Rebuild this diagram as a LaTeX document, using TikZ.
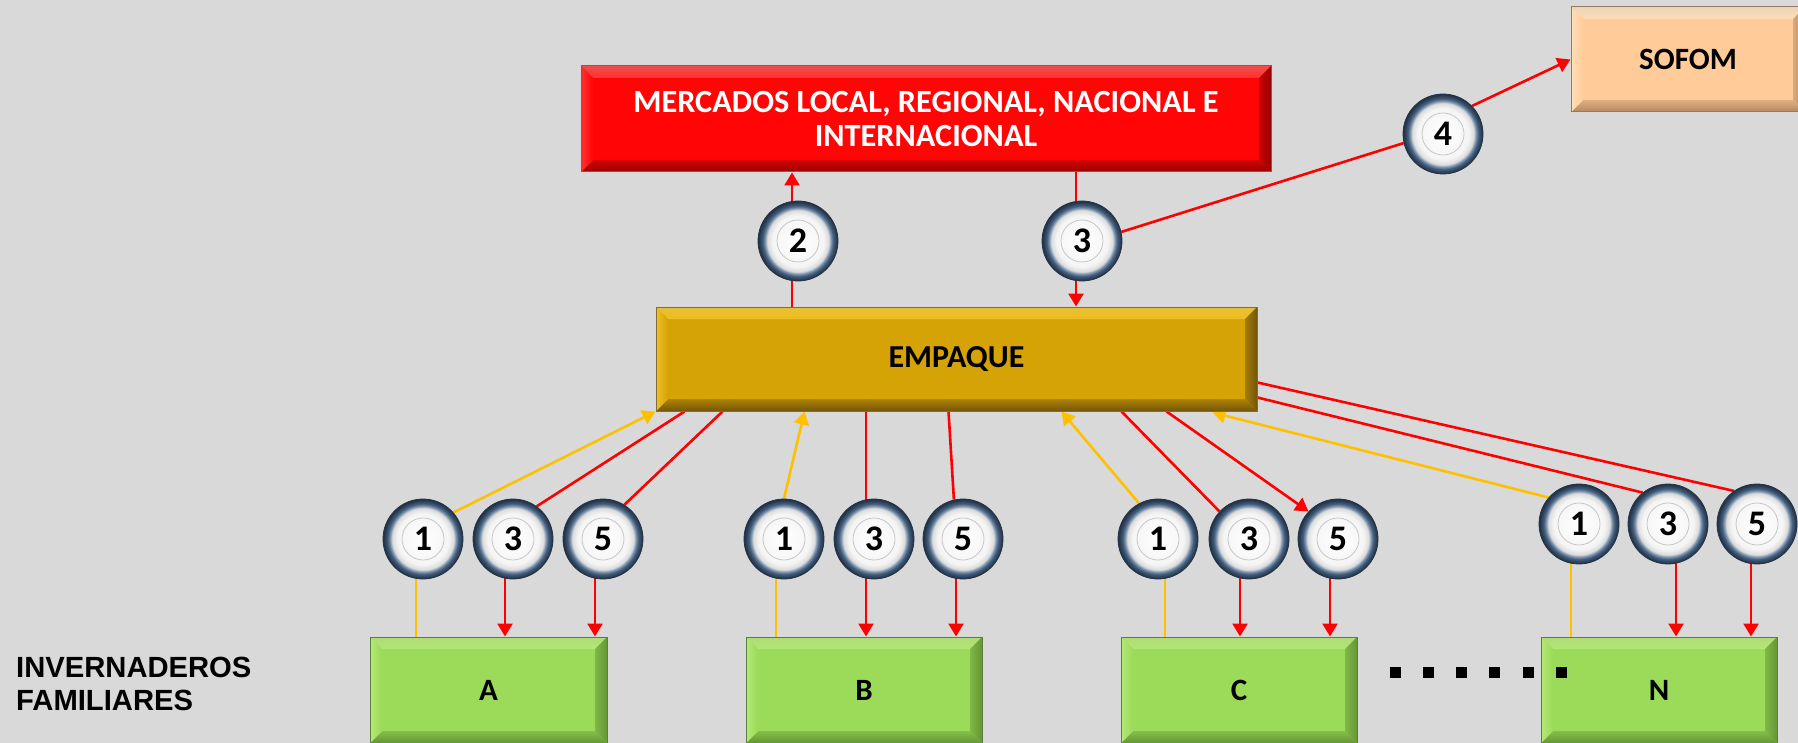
\documentclass[tikz,border=0pt]{standalone}
\usepackage{fontspec}
\setmainfont{Carlito}
\newfontfamily\arialfont{Liberation Sans}
\usetikzlibrary{arrows.meta,calc}
\pgfdeclarelayer{bg}
\pgfdeclarelayer{conn}
\pgfsetlayers{bg,conn,main}
\definecolor{bgc}{HTML}{D9D9D9}
\definecolor{redc}{HTML}{FF0000}
\definecolor{yel}{HTML}{FFC000}
\definecolor{ringA}{RGB}{140,162,186}
\definecolor{ringB}{RGB}{68,95,125}
\definecolor{ringC}{RGB}{36,52,72}
\definecolor{gface}{RGB}{155,219,89}
\definecolor{glight}{RGB}{195,242,135}
\definecolor{gdark}{RGB}{100,150,52}
\definecolor{gborder}{RGB}{95,125,65}
\definecolor{eface}{RGB}{214,163,6}
\definecolor{elight}{RGB}{255,212,55}
\definecolor{edark}{RGB}{115,85,8}
\definecolor{eborder}{RGB}{130,110,50}
\definecolor{mface}{RGB}{255,5,5}
\definecolor{mlight}{RGB}{255,80,80}
\definecolor{mdark}{RGB}{150,0,0}
\definecolor{mborder}{RGB}{175,70,70}
\definecolor{sface}{RGB}{255,204,153}
\definecolor{slight}{RGB}{255,236,205}
\definecolor{sdark}{RGB}{180,135,95}
\definecolor{sborder}{RGB}{150,120,100}
\pgfdeclareradialshading{btn}{\pgfpointorigin}{color(0bp)=(white); color(16bp)=(white!96!black); color(19.3bp)=(white!86!black); color(20.3bp)=(ringA); color(22bp)=(ringB); color(24.5bp)=(ringC); color(50bp)=(ringC)}
\tikzset{
  bevelbox/.style n args={4}{draw=#4, line width=1pt, fill=#1, inner sep=0pt, align=center,
    path picture={
      \path (path picture bounding box.south west) coordinate (pp-sw)
            (path picture bounding box.north east) coordinate (pp-ne)
            (path picture bounding box.north west) coordinate (pp-nw)
            (path picture bounding box.south east) coordinate (pp-se);
      \shade[top color=#2!80!#4, bottom color=#2!55!#1] (pp-nw) -- (pp-ne) -- ([xshift=-12pt,yshift=-12pt]pp-ne) -- ([xshift=12pt,yshift=-12pt]pp-nw) -- cycle;
      \shade[top color=#1!60!#3, bottom color=#3] (pp-sw) -- (pp-se) -- ([xshift=-12pt,yshift=12pt]pp-se) -- ([xshift=12pt,yshift=12pt]pp-sw) -- cycle;
      \shade[left color=#2!60!#1, right color=#1] (pp-nw) -- ([xshift=12pt,yshift=-12pt]pp-nw) -- ([xshift=12pt,yshift=12pt]pp-sw) -- (pp-sw) -- cycle;
      \shade[left color=#1!50!#3, right color=#3] (pp-ne) -- ([xshift=-12pt,yshift=-12pt]pp-ne) -- ([xshift=-12pt,yshift=12pt]pp-se) -- (pp-se) -- cycle;
    }},
  redl/.style={draw=redc, line width=2.6pt},
  redarr/.style={redl, -{Triangle[width=15pt,length=13pt]}},
  yell/.style={draw=yel, line width=2.6pt},
  yelarr/.style={yell, -{Triangle[width=15pt,length=13pt]}},
  num/.style={circle, minimum size=80pt, inner sep=0pt, shade, shading=btn, draw=ringC, line width=0.8pt,
    font=\fontsize{36}{36}\selectfont\bfseries,
    path picture={\draw[black!22, line width=0.8pt] (path picture bounding box.center) circle (21pt);}},
  lbl/.style={font=\fontsize{31}{34}\selectfont\bfseries},
}
\begin{document}
\begin{tikzpicture}[x=1pt,y=-1pt]
\useasboundingbox (0,0) rectangle (1798,743);
\begin{pgfonlayer}{bg}
  \fill[bgc] (0,0) rectangle (1798,743);
\end{pgfonlayer}

% boxes
\node[bevelbox={mface}{mlight}{mdark}{mborder}, minimum width=690pt, minimum height=106pt, text=white, font=\fontsize{32.3}{34}\selectfont\bfseries] (merc) at (926,119) {MERCADOS LOCAL, REGIONAL, NACIONAL E\\INTERNACIONAL};
\node[bevelbox={eface}{elight}{edark}{eborder}, minimum width=601pt, minimum height=104pt, font=\fontsize{32}{34}\selectfont\bfseries] (emp) at (956.5,359) {EMPAQUE};
\node[bevelbox={sface}{slight}{sdark}{sborder}, minimum width=234pt, minimum height=105pt, lbl] (sofom) at (1688,59.5) {SOFOM};
\node[bevelbox={gface}{glight}{gdark}{gborder}, minimum width=237pt, minimum height=106pt, lbl] (boxA) at (488.5,690) {A};
\node[bevelbox={gface}{glight}{gdark}{gborder}, minimum width=236pt, minimum height=106pt, lbl] (boxB) at (864,690) {B};
\node[bevelbox={gface}{glight}{gdark}{gborder}, minimum width=236pt, minimum height=106pt, lbl] (boxC) at (1239,690) {C};
\node[bevelbox={gface}{glight}{gdark}{gborder}, minimum width=236pt, minimum height=106pt, lbl] (boxN) at (1659,690) {N};

\node[anchor=west, align=left, inner sep=0pt, font=\arialfont\bfseries\fontsize{29.2}{32.5}\selectfont] (inv) at (16,684) {INVERNADEROS\\FAMILIARES};

% dots
\foreach \i in {0,...,5} \fill[black] ({1389.5+33.3*\i},666.5) rectangle ++(11,11);

% circles
\node[num] (A1) at (423,539) {1};
\node[num] (A3) at (513,539) {3};
\node[num] (A5) at (603,539) {5};
\node[num] (B1) at (784,539) {1};
\node[num] (B3) at (874,539) {3};
\node[num] (B5) at (963,539) {5};
\node[num] (C1) at (1158,539) {1};
\node[num] (C3) at (1249,539) {3};
\node[num] (C5) at (1338,539) {5};
\node[num] (N1) at (1579,524) {1};
\node[num] (N3) at (1668,524) {3};
\node[num] (N5) at (1757,524) {5};
\node[num] (c2) at (798,241) {2};
\node[num] (c3) at (1082,241) {3};
\node[num] (c4) at (1443,134) {4};

% helper coordinates
\coordinate (A1d) at ([xshift=-7pt]A1.center);
\coordinate (A3d) at ([xshift=-8pt]A3.center);
\coordinate (A5d) at ([xshift=-8pt]A5.center);
\coordinate (B1d) at ([xshift=-8pt]B1.center);
\coordinate (B3d) at ([xshift=-8pt]B3.center);
\coordinate (B5d) at ([xshift=-7pt]B5.center);
\coordinate (C1d) at ([xshift=7pt]C1.center);
\coordinate (C3d) at ([xshift=-9pt]C3.center);
\coordinate (C5d) at ([xshift=-8pt]C5.center);
\coordinate (N1d) at ([xshift=-8pt]N1.center);
\coordinate (N3d) at ([xshift=8pt]N3.center);
\coordinate (N5d) at ([xshift=-6pt]N5.center);
\coordinate (c2d) at ([xshift=-6pt]c2.center);
\coordinate (c3d) at ([xshift=-6pt]c3.center);

\begin{pgfonlayer}{conn}
  % circles down to greenhouses
  \draw[yell] (A1d) -- (A1d |- boxA.north);
  \draw[redarr] (A3d) -- (A3d |- boxA.north);
  \draw[redarr] (A5d) -- (A5d |- boxA.north);
  \draw[yell] (B1d) -- (B1d |- boxB.north);
  \draw[redarr] (B3d) -- (B3d |- boxB.north);
  \draw[redarr] (B5d) -- (B5d |- boxB.north);
  \draw[yell] (C1d) -- (C1d |- boxC.north);
  \draw[redarr] (C3d) -- (C3d |- boxC.north);
  \draw[redarr] (C5d) -- (C5d |- boxC.north);
  \draw[yell] (N1d) -- (N1d |- boxN.north);
  \draw[redarr] (N3d) -- (N3d |- boxN.north);
  \draw[redarr] (N5d) -- (N5d |- boxN.north);
  % circles up to EMPAQUE
  \draw[yelarr] (A1.41) -- (emp.south west);
  \draw[redl] (A3.54) -- ([xshift=29pt]emp.south west);
  \draw[redl] (A5.58) -- ([xshift=67pt]emp.south west);
  \draw[yelarr] (B1.90) -- ([xshift=149pt]emp.south west);
  \draw[redl] (B3d) -- (B3d |- emp.south);
  \draw[redl] (B5.103) -- ([xshift=293pt]emp.south west);
  \draw[yelarr] (C1.118) -- ([xshift=406pt]emp.south west);
  \draw[redl] (C3.137) -- ([xshift=466pt]emp.south west);
  \draw[redarr] ([xshift=511pt]emp.south west) -- (C5.137);
  \draw[yelarr] (N1.139) -- ([xshift=557pt,yshift=-1pt]emp.south west);
  \draw[redl] (N3.129) -- ([yshift=14pt]emp.south east);
  \draw[redl] (N5.125) -- ([yshift=29pt]emp.south east);
  % EMPAQUE to markets
  \draw[redl] (c2d |- emp.north) -- (c2d);
  \draw[redarr] (c2d) -- (c2d |- merc.south);
  \draw[redl] (c3d |- merc.south) -- (c3d);
  \draw[redarr] (c3d) -- (c3d |- emp.north);
  % to SOFOM
  \draw[redl] (c3.13) -- (c4.193);
  \draw[redarr] (c4.44) -- (sofom.west);
\end{pgfonlayer}
\end{tikzpicture}
\end{document}
